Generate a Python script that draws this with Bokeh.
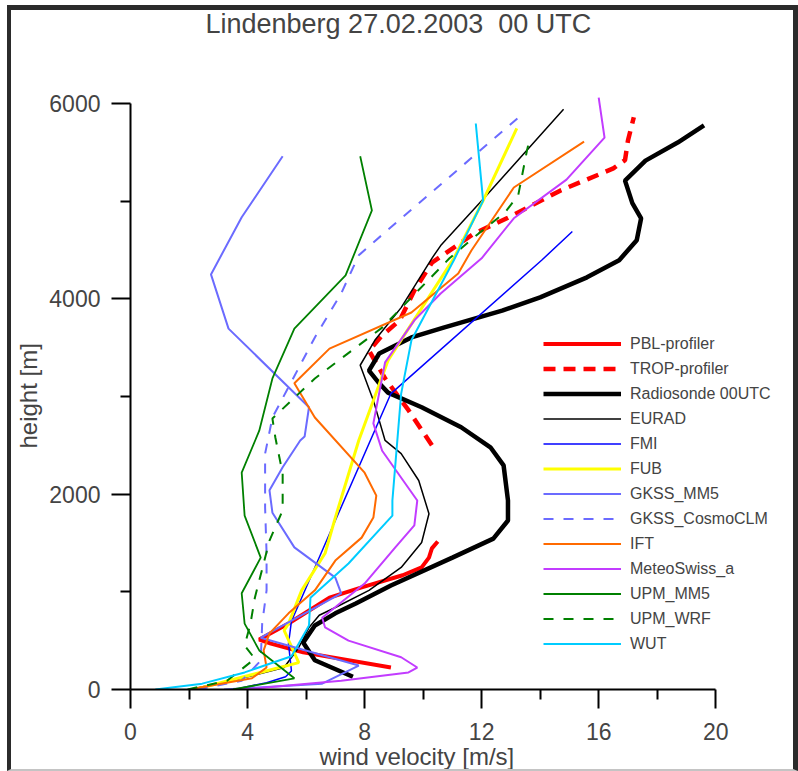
from bokeh.plotting import figure
from bokeh.models import Range1d, FixedTicker, Legend, LegendItem, Title
from bokeh.embed import file_html
from bokeh.resources import INLINE

# Wind speed profiles, Lindenberg 27.02.2003 00 UTC
# speeds in m/s, heights in m

pbl_v = [8.9, 5.9, 4.8, 4.4, 5.4, 6.8, 7.9, 9.3, 9.95, 10.2, 10.3, 10.5]
pbl_h = [225, 380, 470, 512, 676, 940, 1045, 1170, 1250, 1350, 1445, 1515]

trop_v = [10.3, 9.5, 8.7, 8.15, 8.6, 9.2, 9.7, 10.3, 11.75, 12.9, 14.7, 16.5, 16.9, 17.0, 17.2]
trop_h = [2500, 2860, 3185, 3470, 3625, 3780, 4085, 4370, 4670, 4830, 5110, 5335, 5420, 5620, 5860]

sonde_v = [7.6, 6.3, 5.9, 6.3, 7.0, 7.7, 8.9, 11.0, 12.4, 12.9, 12.9, 12.75, 12.3, 11.3, 9.95,
           8.8, 8.5, 8.15, 8.5, 9.6, 10.7, 12.7, 14.0, 15.6, 16.7, 17.3, 17.45, 17.15, 16.9,
           17.6, 18.7, 19.6]
sonde_h = [130, 300, 480, 655, 780, 880, 1065, 1350, 1545, 1730, 1935, 2295, 2480, 2685, 2890,
           3040, 3135, 3265, 3440, 3605, 3705, 3880, 4015, 4220, 4395, 4600, 4825, 4980, 5210,
           5415, 5600, 5775]

eurad_v = [2.2, 4.0, 5.25, 5.75, 6.1, 6.45, 7.0, 8.15, 9.25, 9.95, 10.2, 9.85, 9.25, 8.7,
           8.3, 7.85, 8.35, 9.25, 10.3, 10.6, 12.0, 13.6, 14.8]
eurad_h = [10, 130, 225, 430, 635, 760, 840, 1015, 1250, 1505, 1800, 2140, 2415, 2550,
           2960, 3320, 3575, 3910, 4415, 4545, 5005, 5540, 5940]

fmi_v = [3.7, 4.65, 5.3, 5.5, 5.4, 5.5, 5.85, 7.0, 8.9, 14.05, 15.1]
fmi_h = [10, 70, 130, 190, 470, 700, 940, 1730, 3030, 4395, 4690]

fub_v = [2.2, 3.8, 5.1, 5.75, 5.25, 5.4, 5.85, 6.65, 7.0, 7.8, 8.3, 8.8, 11.05, 12.05, 13.2]
fub_h = [0, 125, 225, 275, 605, 675, 1015, 1395, 1760, 2550, 2960, 3370, 4415, 5005, 5745]

gkss_mm5_v = [3.2, 6.55, 7.8, 4.45, 7.2, 7.0, 5.6, 4.85, 4.75, 5.2, 5.8, 5.95, 6.1, 3.35, 2.75,
              3.8, 5.2]
gkss_mm5_h = [0, 60, 245, 530, 985, 1145, 1455, 1810, 2040, 2275, 2550, 2590, 2890, 3695, 4250,
              4835, 5460]

gkss_clm_v = [2.3, 3.8, 4.45, 4.5, 4.65, 4.65, 4.6, 4.6, 4.85, 6.3, 7.2, 7.8, 8.25, 13.35]
gkss_clm_h = [0, 90, 295, 675, 1015, 1395, 1865, 2415, 2785, 3605, 4055, 4445, 4565, 5880]

ift_v = [2.0, 4.15, 4.65, 4.55, 4.75, 5.4, 6.3, 7.0, 7.9, 8.3, 8.4, 8.0, 6.3, 5.6, 6.8, 9.6,
         11.2, 11.65, 13.1, 15.5]
ift_h = [0, 115, 225, 400, 575, 780, 1015, 1320, 1555, 1760, 1985, 2220, 2785, 3135, 3490, 3860,
         4260, 4495, 5140, 5610]

meteo_v = [3.8, 7.2, 9.5, 9.8, 9.25, 7.45, 6.65, 6.55, 8.0, 9.05, 9.7, 9.8, 8.6, 8.3, 8.7, 9.7,
           10.6, 12.0, 13.1, 14.9, 16.2, 16.0]
meteo_h = [0, 90, 175, 225, 330, 500, 635, 735, 1085, 1455, 1680, 1935, 2445, 2725, 3350, 3780,
           4055, 4415, 4825, 5220, 5650, 6060]

upm_mm5_v = [3.5, 5.6, 4.4, 3.9, 3.8, 4.45, 3.9, 3.8, 4.4, 4.85, 5.6, 7.35, 8.25, 7.85]
upm_mm5_h = [0, 115, 400, 675, 985, 1350, 1780, 2220, 2650, 3185, 3695, 4240, 4905, 5460]

upm_wrf_v = [1.95, 3.3, 4.25, 3.9, 4.1, 4.25, 4.75, 5.2, 5.2, 4.95, 4.85, 6.3, 8.6, 10.9,
             11.9, 12.8, 13.25, 13.55, 13.65]
upm_wrf_h = [0, 90, 315, 450, 675, 940, 1525, 1835, 2210, 2580, 2775, 3185, 3705, 4415,
             4670, 4885, 5060, 5520, 5650]

wut_v = [0.85, 2.45, 3.9, 5.5, 5.75, 6.1, 6.15, 7.45, 8.95, 8.95, 9.25, 9.6, 11.05, 12.05, 11.8]
wut_h = [0, 60, 175, 340, 470, 655, 940, 1290, 1780, 1935, 3030, 3575, 4395, 5005, 5795]

labels = ["PBL-profiler", "TROP-profiler", "Radiosonde 00UTC", "EURAD", "FMI", "FUB",
          "GKSS_MM5", "GKSS_CosmoCLM", "IFT", "MeteoSwiss_a", "UPM_MM5", "UPM_WRF", "WUT"]

x_ticks = [0, 4, 8, 12, 16, 20]
x_minor = [2, 6, 10, 14, 18]
y_ticks = [0, 2000, 4000, 6000]
y_minor = [1000, 3000, 5000]

FONT = "Liberation Sans"

# axis scales: 20 m/s over 587 px, 6000 m over 586 px; the frame runs past both
# axis ends so the legend on the right and the headroom at the top are not clipped
PX_PER_MS = 587 / 20
PX_PER_M = 586 / 6000
X_END = 665 / PX_PER_MS
Y_END = 652 / PX_PER_M

p = figure(width=791, height=766, output_backend="svg", toolbar_location=None,
           x_range=Range1d(0, X_END), y_range=Range1d(0, Y_END),
           min_border_left=117, min_border_right=9, min_border_top=27, min_border_bottom=87)

# framed page
p.styles = {
    "margin-left": "7px",
    "margin-top": "5px",
    "border-left": "4px solid #2b2b2b",
    "border-top": "5px solid #2b2b2b",
    "border-right": "5px solid #2b2b2b",
    "border-bottom": "2px solid #c4c4c4",
}

p.title.text = "Lindenberg 27.02.2003\u00a0 00 UTC"
p.title.align = "left"
p.title.offset = 75
p.title.vertical_align = "top"
p.title.standoff = -6
p.title.text_font = FONT
p.title.text_font_size = "27px"
p.title.text_font_style = "normal"

p.grid.visible = False
p.outline_line_color = None
p.background_fill_color = "white"
p.border_fill_color = "white"

for ax, ticks, minor, bnds in [(p.xaxis[0], x_ticks, x_minor, (0, 20)),
                               (p.yaxis[0], y_ticks, y_minor, (0, 6000))]:
    ax.ticker = FixedTicker(ticks=ticks, minor_ticks=minor)
    ax.bounds = bnds
    ax.major_label_text_font = FONT
    ax.major_label_text_font_size = "23px"
    ax.axis_line_width = 2
    ax.major_tick_line_width = 2
    ax.minor_tick_line_width = 2
    ax.major_tick_in = 0
    ax.major_tick_out = 19
    ax.minor_tick_in = 0
    ax.minor_tick_out = 10

p.xaxis.major_label_standoff = 14
p.yaxis.major_label_standoff = 11

# axis titles, placed along the axes
p.add_layout(Title(text="wind velocity [m/s]", align="left", offset=189,
                   vertical_align="bottom", standoff=-3, text_font=FONT,
                   text_font_size="24px", text_font_style="normal"), "below")
p.add_layout(Title(text="height [m]", align="left", offset=241,
                   vertical_align="top", standoff=6, text_font=FONT,
                   text_font_size="24px", text_font_style="normal"), "left")

series = [
    (pbl_v, pbl_h, "#ff0000", 4, "solid"),
    (trop_v, trop_h, "#ff0000", 4.5, "12 8"),
    (sonde_v, sonde_h, "#000000", 4.5, "solid"),
    (eurad_v, eurad_h, "#000000", 1.5, "solid"),
    (fmi_v, fmi_h, "#0000ff", 1.5, "solid"),
    (fub_v, fub_h, "#ffff00", 3, "solid"),
    (gkss_mm5_v, gkss_mm5_h, "#6b6bff", 2, "solid"),
    (gkss_clm_v, gkss_clm_h, "#6b6bff", 2, "10 10"),
    (ift_v, ift_h, "#ff6a00", 2, "solid"),
    (meteo_v, meteo_h, "#c23cff", 2, "solid"),
    (upm_mm5_v, upm_mm5_h, "#008000", 1.8, "solid"),
    (upm_wrf_v, upm_wrf_h, "#008000", 2, "10 10"),
    (wut_v, wut_h, "#00ccff", 2, "solid"),
]

items = []
for lbl, (v, h, col, w, dash) in zip(labels, series):
    r = p.line(v, h, line_color=col, line_width=w, line_dash=dash)
    items.append(LegendItem(label=lbl, renderers=[r]))

legend = Legend(items=items, location=(413, 35), border_line_color=None,
                background_fill_alpha=0, padding=0, margin=0, spacing=4,
                glyph_width=78, glyph_height=21, label_height=21, label_standoff=9,
                label_text_font=FONT, label_text_font_size="16px")
p.add_layout(legend)

open("out.html", "w").write(file_html(p, INLINE))
